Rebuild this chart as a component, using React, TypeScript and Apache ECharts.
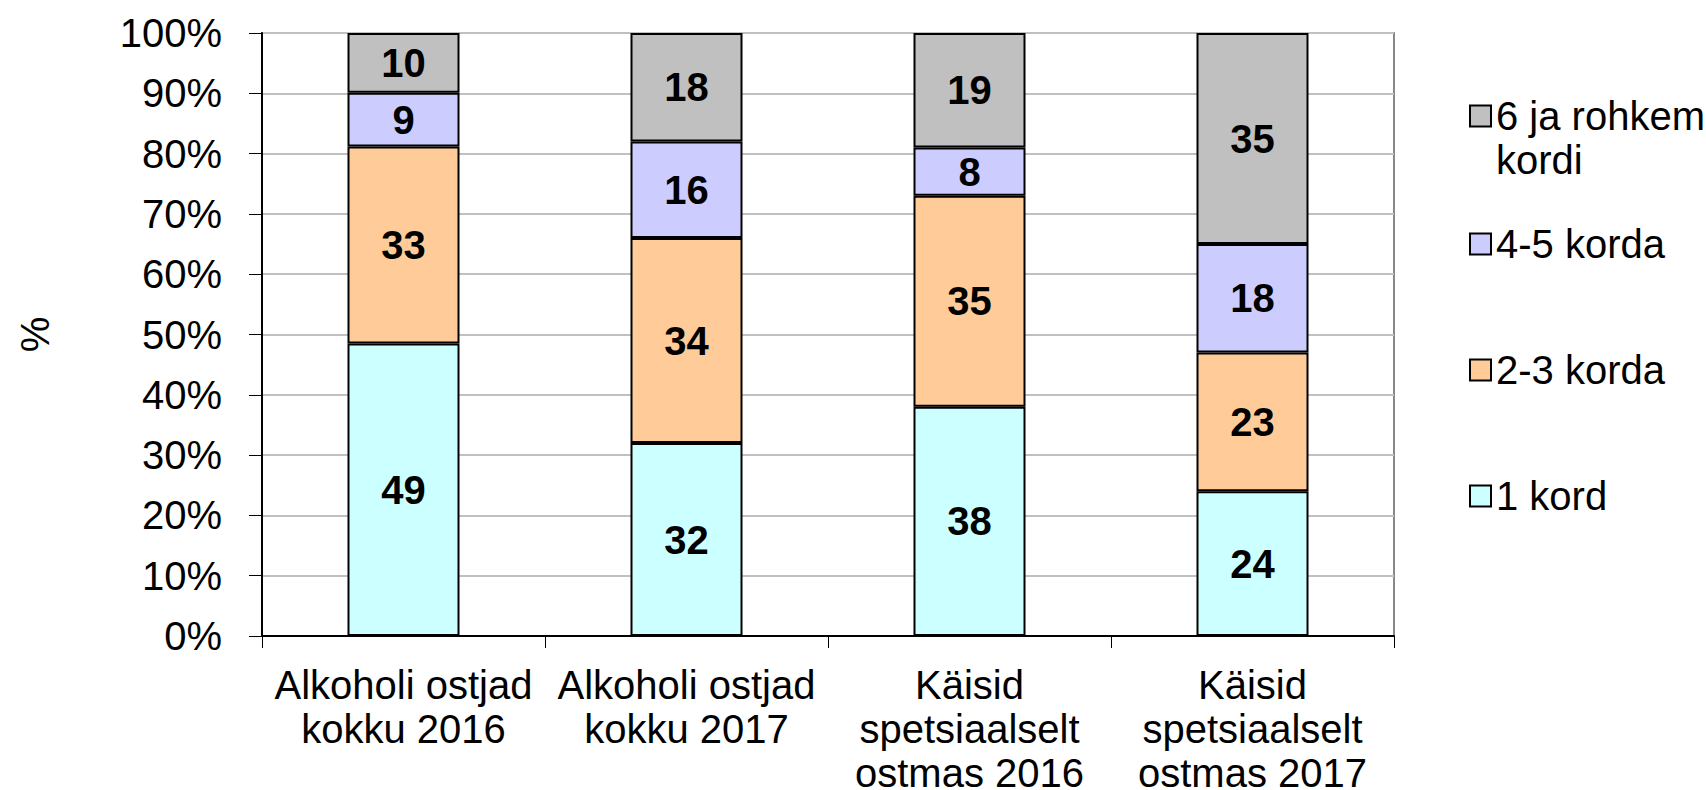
import React, { useEffect, useRef } from 'react';
import * as echarts from 'echarts';

const categories = [
  'Alkoholi ostjad\nkokku 2016',
  'Alkoholi ostjad\nkokku 2017',
  'Käisid\nspetsiaalselt\nostmas 2016',
  'Käisid\nspetsiaalselt\nostmas 2017',
];
const seriesNames = ['1 kord', '2-3 korda', '4-5 korda', '6 ja rohkem\nkordi'];
const once = [49, 32, 38, 24];
const twoThree = [33, 34, 35, 23];
const fourFive = [9, 16, 8, 18];
const sixPlus = [10, 18, 19, 35];
const seriesColors = ['#ccffff', '#ffcc99', '#ccccff', '#c0c0c0'];
const yAxisName = '%';

const FONT = '"Liberation Sans", Arial, sans-serif';

export default function App() {
  const ref = useRef<HTMLDivElement>(null);
  useEffect(() => {
    document.body.style.margin = '0';
    if (!ref.current) return;
    const chart = echarts.init(ref.current, undefined, { renderer: 'svg' });
    const raw = [once, twoThree, fourFive, sixPlus];
    const totals = categories.map((_, i) => raw.reduce((s, a) => s + a[i], 0));
    const series = raw.map((arr, si) => ({
      name: seriesNames[si],
      type: 'bar',
      stack: 'total',
      barWidth: 112,
      data: arr.map((v, i) => (v / totals[i]) * 100),
      itemStyle: { color: seriesColors[si], borderColor: '#000', borderWidth: 2 },
      label: {
        show: true,
        position: 'inside',
        color: '#000',
        fontFamily: FONT,
        fontWeight: 'bold',
        fontSize: 40,
        formatter: (p: any) => String(arr[p.dataIndex]),
      },
    }));
    const legendTops = [474, 348, 222, 50];
    const legends = seriesNames.map((n, si) => ({
      data: [n],
      left: 1469,
      top: legendTops[si],
      orient: 'vertical',
      padding: 0,
      itemWidth: 21,
      itemHeight: 21,
      icon: 'rect',
      selectedMode: false,
      formatter: (name: string) => (name.indexOf('\n') >= 0 ? '\n' + name : name),
      textStyle: {
        fontFamily: FONT,
        fontSize: 40,
        lineHeight: 44,
        color: '#000',
      },
    }));
    chart.setOption({
      animation: false,
      backgroundColor: '#fff',
      textStyle: { fontFamily: FONT },
      grid: {
        left: 262,
        right: 312,
        top: 33,
        bottom: 154,
        show: true,
        borderColor: '#888',
        borderWidth: 2,
        outerBoundsMode: 'none',
        containLabel: false,
      },
      legend: legends,
      xAxis: {
        type: 'category',
        data: categories,
        axisLine: { lineStyle: { color: '#000', width: 2 } },
        axisTick: { show: true, length: 12, lineStyle: { color: '#000', width: 1 } },
        axisLabel: {
          interval: 0,
          fontFamily: FONT,
          fontSize: 40,
          lineHeight: 44,
          margin: 27,
          color: '#000',
        },
      },
      yAxis: {
        type: 'value',
        min: 0,
        max: 100,
        interval: 10,
        name: yAxisName,
        nameLocation: 'middle',
        nameRotate: 90,
        nameGap: 207,
        nameTextStyle: { fontFamily: FONT, fontSize: 40, color: '#000' },
        axisLine: { show: true, lineStyle: { color: '#000', width: 2 } },
        axisTick: { show: true, length: 13, lineStyle: { color: '#000', width: 1 } },
        splitLine: { show: true, lineStyle: { color: '#c0c0c0', width: 2 } },
        axisLabel: {
          formatter: '{value}%',
          fontFamily: FONT,
          fontSize: 40,
          margin: 40,
          color: '#000',
        },
      },
      series,
    });
    return () => chart.dispose();
  }, []);
  return <div ref={ref} style={{ width: 1706, height: 790 }} />;
}
